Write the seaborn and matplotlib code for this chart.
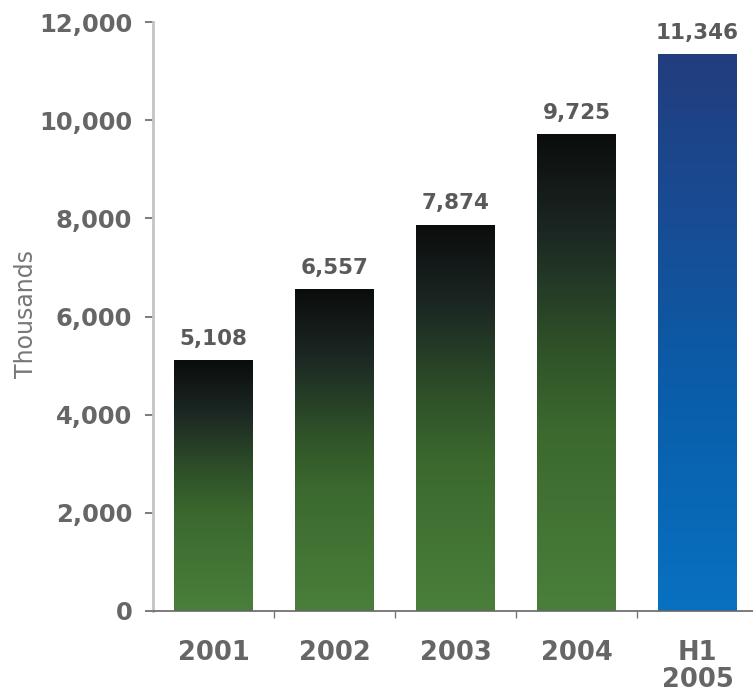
import numpy as np
import matplotlib
matplotlib.use("Agg")
import matplotlib.pyplot as plt
from matplotlib.colors import LinearSegmentedColormap
import seaborn as sns

# datos del grafico
periodos = ["2001", "2002", "2003", "2004", "H1\n2005"]
valores = [5108, 6557, 7874, 9725, 11346]
y_ticks = [0, 2000, 4000, 6000, 8000, 10000, 12000]

sns.set_style("white")
plt.rcParams['font.family'] = ['DejaVu Sans']

verde = LinearSegmentedColormap.from_list(
    "verde", [(0.0, "#0b0d0d"), (0.2, "#1b2623"), (0.45, "#2f5229"),
              (0.62, "#3b692e"), (1.0, "#4a7f3b")])
azul = LinearSegmentedColormap.from_list(
    "azul", [(0.0, "#223d7e"), (0.35, "#164f98"), (0.6, "#0a5da9"),
             (1.0, "#0871c1")])

fig = plt.figure(figsize=(7.53, 6.92), dpi=100)
ax = fig.add_axes([153 / 753, 81 / 692, 605 / 753, 589 / 692])

sns.barplot(x=periodos, y=valores, color="#4a7f3b", width=0.645, ax=ax,
            saturation=1)

# gradiente vertical en cada barra
grad = np.linspace(0, 1, 256).reshape(-1, 1)
for i, p in enumerate(ax.patches):
    x0, y0 = p.get_x(), p.get_y()
    w, h = p.get_width(), p.get_height()
    cmap = azul if i == len(ax.patches) - 1 else verde
    im = ax.imshow(grad, cmap=cmap, aspect="auto", origin="upper",
                   extent=[x0, x0 + w, y0, y0 + h], zorder=p.get_zorder())
    im.set_clip_path(p)
    p.set_facecolor("none")
    p.set_edgecolor("none")

ax.bar_label(ax.containers[0], labels=[f"{v:,}" for v in valores],
             padding=8, fontsize=15.5, fontweight="bold", color="#5a5a5a")

ax.set_xlim(-0.5, 4.5)
ax.set_ylim(0, 12000)
ax.set_yticks(y_ticks)
ax.set_yticklabels([f"{t:,}" for t in y_ticks])
ax.set_xticks(range(len(periodos)))
ax.set_xticklabels(periodos, linespacing=1.05)
ax.set_xticks([0.5, 1.5, 2.5, 3.5], minor=True)

ax.tick_params(axis="y", which="major", length=6, width=1.2, color="#666666",
               pad=9, labelsize=17.5, labelcolor="#666666", left=True)
ax.tick_params(axis="x", which="major", length=0, pad=21, labelsize=18.5,
               labelcolor="#666666")
ax.tick_params(axis="x", which="minor", length=5, width=1, color="#777777",
               bottom=True)
for lab in ax.get_xticklabels() + ax.get_yticklabels():
    lab.set_fontweight("bold")

ax.set_ylabel("Thousands", fontsize=17, color="#777777")
ax.yaxis.set_label_coords(-0.19, 0.505)

for s in ["top", "right"]:
    ax.spines[s].set_visible(False)
ax.spines["left"].set_color("#c4c4c4")
ax.spines["left"].set_linewidth(2)
ax.spines["bottom"].set_color("#666666")
ax.spines["bottom"].set_linewidth(1.2)

fig.savefig("out.png", dpi=100)
